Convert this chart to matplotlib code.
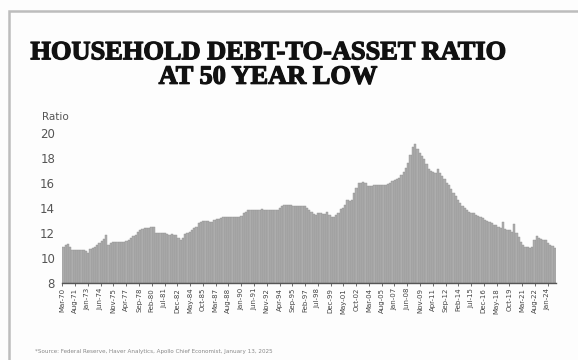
#!/usr/bin/env python3
"""Household debt-to-asset ratio, quarterly bars 1970Q1-2024Q3."""
import matplotlib
matplotlib.use("Agg")
import matplotlib.pyplot as plt
import matplotlib.patheffects as pe
from matplotlib.patches import Rectangle

# quarterly ratio, one row per year (1970 .. 2024, last year has 3 quarters)
RATIO_BY_YEAR = [
    [10.85, 11.05, 11.1, 10.9],    # 1970
    [10.65, 10.6, 10.6, 10.6],     # 1971
    [10.6, 10.6, 10.55, 10.4],     # 1972
    [10.75, 10.8, 10.9, 11.0],     # 1973
    [11.15, 11.35, 11.5, 11.8],    # 1974
    [11.05, 11.2, 11.3, 11.25],    # 1975
    [11.25, 11.25, 11.25, 11.3],   # 1976
    [11.35, 11.45, 11.6, 11.75],   # 1977
    [11.85, 12.05, 12.2, 12.3],    # 1978
    [12.35, 12.4, 12.4, 12.45],    # 1979
    [12.5, 12.0, 11.95, 11.95],    # 1980
    [11.95, 11.95, 11.9, 11.85],   # 1981
    [11.9, 11.85, 11.8, 11.6],     # 1982
    [11.45, 11.6, 11.9, 12.0],     # 1983
    [12.1, 12.2, 12.35, 12.5],     # 1984
    [12.75, 12.85, 12.95, 12.95],  # 1985
    [12.95, 12.9, 12.85, 13.05],   # 1986
    [13.1, 13.1, 13.15, 13.3],     # 1987
    [13.3, 13.3, 13.3, 13.3],      # 1988
    [13.3, 13.3, 13.3, 13.35],     # 1989
    [13.6, 13.7, 13.85, 13.85],    # 1990
    [13.8, 13.8, 13.8, 13.85],     # 1991
    [13.9, 13.85, 13.8, 13.8],     # 1992
    [13.8, 13.8, 13.8, 13.8],      # 1993
    [14.0, 14.1, 14.2, 14.2],      # 1994
    [14.2, 14.2, 14.15, 14.1],     # 1995
    [14.1, 14.1, 14.1, 14.1],      # 1996
    [14.0, 13.85, 13.7, 13.5],     # 1997
    [13.45, 13.55, 13.6, 13.5],    # 1998
    [13.5, 13.65, 13.45, 13.25],   # 1999
    [13.3, 13.45, 13.6, 13.9],     # 2000
    [14.0, 14.2, 14.65, 14.5],     # 2001
    [14.6, 15.2, 15.6, 15.95],     # 2002
    [16.0, 16.05, 16.0, 15.75],    # 2003
    [15.75, 15.75, 15.78, 15.8],   # 2004
    [15.8, 15.8, 15.82, 15.85],    # 2005
    [15.9, 15.95, 16.1, 16.25],    # 2006
    [16.3, 16.4, 16.6, 16.85],     # 2007
    [17.2, 17.6, 18.2, 18.85],     # 2008
    [19.05, 18.7, 18.4, 18.1],     # 2009
    [17.9, 17.5, 17.1, 16.9],      # 2010
    [16.85, 16.75, 17.1, 16.75],   # 2011
    [16.5, 16.3, 16.0, 15.8],      # 2012
    [15.5, 15.2, 14.9, 14.6],      # 2013
    [14.35, 14.15, 13.95, 13.8],   # 2014
    [13.7, 13.6, 13.6, 13.45],     # 2015
    [13.35, 13.25, 13.15, 13.05],  # 2016
    [12.95, 12.85, 12.75, 12.65],  # 2017
    [12.6, 12.5, 12.4, 12.85],     # 2018
    [12.3, 12.25, 12.2, 12.1],     # 2019
    [12.7, 12.0, 11.7, 11.3],      # 2020
    [11.05, 10.9, 10.85, 10.8],    # 2021
    [10.85, 11.4, 11.75, 11.6],    # 2022
    [11.5, 11.4, 11.4, 11.2],      # 2023
    [11.05, 10.95, 10.8],          # 2024
]

# x axis labels, one every 17 months starting Mar-70
TICK_LABELS = [
    "Mar-70", "Aug-71", "Jan-73", "Jun-74", "Nov-75", "Apr-77", "Sep-78",
    "Feb-80", "Jul-81", "Dec-82", "May-84", "Oct-85", "Mar-87", "Aug-88",
    "Jan-90", "Jun-91", "Nov-92", "Apr-94", "Sep-95", "Feb-97", "Jul-98",
    "Dec-99", "May-01", "Oct-02", "Mar-04", "Aug-05", "Jan-07", "Jun-08",
    "Nov-09", "Apr-11", "Sep-12", "Feb-14", "Jul-15", "Dec-16", "May-18",
    "Oct-19", "Mar-21", "Aug-22", "Jan-24",
]
TICK_STEP = 17  # months

Y_TICKS = [8, 10, 12, 14, 16, 18, 20]

TITLE = "HOUSEHOLD DEBT-TO-ASSET RATIO\nAT 50 YEAR LOW"
SOURCE = "*Source: Federal Reserve, Haver Analytics, Apollo Chief Economist, January 13, 2025"

W, H = 578, 360


def main():
    ratio = [v for year in RATIO_BY_YEAR for v in year]
    months = [3 * i for i in range(len(ratio))]  # month index from Mar-70

    fig = plt.figure(figsize=(W / 100, H / 100), dpi=100)
    fig.patch.set_facecolor("#fdfdfd")

    # card border (top + left edge visible)
    fig.patches.append(Rectangle((9 / W, -0.1), 1.2, (H - 11) / H + 0.1,
                                 transform=fig.transFigure, fill=False,
                                 edgecolor="#bdbdbd", linewidth=1.8))

    fig.text(268 / W, 1 - 65 / H, TITLE, ha="center", va="center",
             family="Liberation Serif", weight="bold", fontsize=19,
             linespacing=1.08, color="#111111",
             path_effects=[pe.withStroke(linewidth=0.9, foreground="#111111")])

    ax = fig.add_axes([62 / W, (H - 283) / H, 494 / W, 150.5 / H])
    ax.set_facecolor("none")
    ax.bar(months, [v - 8 for v in ratio], width=3, bottom=8, align="edge",
           color="#adadad", edgecolor="#929292", linewidth=0.3)

    ax.set_ylim(8, 20)
    ax.set_xlim(-0.5, 657)
    ax.set_yticks(Y_TICKS)
    ax.set_xticks([TICK_STEP * k for k in range(len(TICK_LABELS))])
    ax.set_xticklabels(TICK_LABELS, rotation=90, fontsize=5, color="#444444")
    ax.tick_params(axis="y", length=0, labelsize=8.5, labelcolor="#555555", pad=5)
    ax.tick_params(axis="x", length=2, width=0.6, color="#555555", pad=1.5)
    for s in ["top", "right", "left"]:
        ax.spines[s].set_visible(False)
    ax.spines["bottom"].set_color("#555555")
    ax.spines["bottom"].set_linewidth(1.0)

    fig.text(42 / W, 1 - 117 / H, "Ratio", ha="left", va="center",
             fontsize=7.5, color="#555555")

    fig.text(35 / W, 1 - 351 / H, SOURCE, ha="left", va="center",
             fontsize=4.1, color="#888888")

    fig.savefig("out.png", dpi=100, facecolor=fig.get_facecolor())
    plt.close(fig)


if __name__ == "__main__":
    main()
